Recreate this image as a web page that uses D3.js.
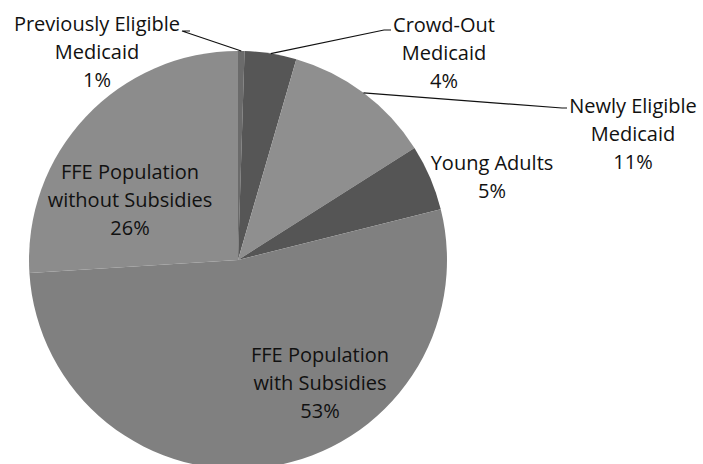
<!DOCTYPE html>
<html><head><meta charset="utf-8">
<script src="https://cdn.jsdelivr.net/npm/d3@7"></script>
<style>body{margin:0;background:#fff}svg{display:block}</style>
</head><body>
<svg id="c" width="703" height="464"></svg>
<script>
const categories = ["Previously Eligible Medicaid","Crowd-Out Medicaid","Newly Eligible Medicaid","Young Adults","FFE Population with Subsidies","FFE Population without Subsidies"];
const values = [0.5, 4.0, 11.5, 5.1, 52.9, 26.0];
const pctLabels = ["1%","4%","11%","5%","53%","26%"];
const labelLines = [["Previously Eligible","Medicaid"],["Crowd-Out","Medicaid"],["Newly Eligible","Medicaid"],["Young Adults"],["FFE Population","with Subsidies"],["FFE Population","without Subsidies"]];
const colors = ["#6b6b6b","#565656","#8f8f8f","#555555","#808080","#8c8c8c"];

const svg = d3.select("#c");
const cx = 238, cy = 260, r = 209;
const g = svg.append("g").attr("transform", `translate(${cx},${cy})`);
const pie = d3.pie().sort(null).value(d => d)(values);
const arc = d3.arc().innerRadius(0).outerRadius(r);
g.selectAll("path").data(pie).join("path")
  .attr("d", arc).attr("fill", (d,i) => colors[i]);

// label positions (center x, first-line baseline y)
const labelPos = [[97,31],[444,32],[633,113],[492,170],[320,362],[130,179]];
const lh = 28;
labelLines.forEach((lines, i) => {
  const all = lines.concat([pctLabels[i]]);
  const t = svg.append("text").attr("text-anchor","middle")
    .attr("font-family","Open Sans, sans-serif").attr("font-size",20).attr("fill","#111");
  all.forEach((s, k) => t.append("tspan").attr("x", labelPos[i][0]).attr("y", labelPos[i][1] + k*lh).text(s));
});

const leaders = [
  {i:0, pts:[[182,31],[190,31]]},
  {i:1, pts:[[384,30],[391,30]]},
  {i:2, pts:[[562,108],[567,108]]}
];
leaders.forEach(L => {
  const d = pie[L.i];
  const a = (d.startAngle + d.endAngle)/2;
  const p0 = [cx + Math.sin(a)*r, cy - Math.cos(a)*r];
  const pts = [L.pts[1], L.pts[0], p0];
  svg.append("path").attr("d", d3.line()(pts)).attr("fill","none").attr("stroke","#111").attr("stroke-width",1.2);
});
</script>
</body></html>
